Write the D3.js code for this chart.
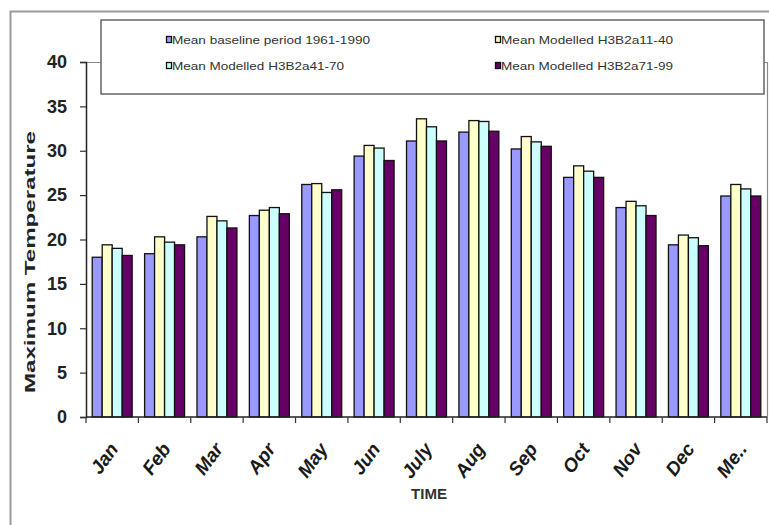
<!DOCTYPE html>
<html>
<head>
<meta charset="utf-8">
<script src="https://cdn.jsdelivr.net/npm/d3@7"></script>
<style>
  html, body { margin: 0; padding: 0; background: #fff; }
  svg { display: block; font-family: Arial, "Liberation Sans", sans-serif; }
</style>
</head>
<body>
<svg id="chart" width="769" height="525"></svg>
<script>
// Monthly mean maximum temperature: baseline vs. modelled H3B2a periods
const months = ["Jan", "Feb", "Mar", "Apr", "May", "Jun", "July", "Aug", "Sep", "Oct", "Nov", "Dec", "Me.."];
const seriesNames = [
  "Mean baseline period 1961-1990",
  "Mean Modelled H3B2a11-40",
  "Mean Modelled H3B2a41-70",
  "Mean Modelled H3B2a71-99"
];
const baseline1961_1990 = [18.0, 18.4, 20.3, 22.7, 26.2, 29.4, 31.1, 32.1, 30.2, 27.0, 23.6, 19.4, 24.9];
const modelled11_40     = [19.4, 20.3, 22.6, 23.3, 26.3, 30.6, 33.6, 33.4, 31.6, 28.3, 24.3, 20.5, 26.2];
const modelled41_70     = [19.0, 19.7, 22.1, 23.6, 25.3, 30.3, 32.7, 33.3, 31.0, 27.7, 23.8, 20.2, 25.7];
const modelled71_99     = [18.2, 19.4, 21.3, 22.9, 25.6, 28.9, 31.1, 32.2, 30.5, 27.0, 22.7, 19.3, 24.9];
const seriesValues = [baseline1961_1990, modelled11_40, modelled41_70, modelled71_99];
const seriesColors = ["#9999FF", "#FFFFCC", "#CCFFFF", "#660066"];
const yTicks = [0, 5, 10, 15, 20, 25, 30, 35, 40];

const svg = d3.select("#chart");

// Outer chart frame
svg.append("rect")
  .attr("x", 10.5).attr("y", 11.5)
  .attr("width", 820).attr("height", 600)
  .attr("fill", "none").attr("stroke", "#9a9a9a").attr("stroke-width", 2);

const plot = { left: 86, right: 767, top: 62, bottom: 417 };

const x = d3.scaleBand()
  .domain(months)
  .range([plot.left, plot.right])
  .paddingInner(0.237)
  .paddingOuter(0.1185);

const xSub = d3.scaleBand()
  .domain(d3.range(seriesNames.length))
  .range([0, x.bandwidth()]);

const y = d3.scaleLinear()
  .domain([0, 40])
  .range([plot.bottom, plot.top]);

// Plot area border (top and right)
svg.append("path")
  .attr("d", `M${plot.left},${plot.top + 0.5}H${plot.right + 0.5}V${plot.bottom}`)
  .attr("fill", "none").attr("stroke", "#8a8a8a").attr("stroke-width", 1.2);

// Bars
const rows = months.map((m, i) => ({ month: m, values: seriesValues.map(s => s[i]) }));
const groups = svg.append("g").selectAll("g")
  .data(rows)
  .join("g")
  .attr("transform", d => `translate(${x(d.month)},0)`);

groups.selectAll("rect")
  .data(d => d.values.map((v, k) => ({ k, v })))
  .join("rect")
  .attr("x", d => xSub(d.k))
  .attr("y", d => y(d.v))
  .attr("width", xSub.bandwidth())
  .attr("height", d => y(0) - y(d.v))
  .attr("fill", d => seriesColors[d.k])
  .attr("stroke", "#111")
  .attr("stroke-width", 1.3);

// Y axis
const yAxis = svg.append("g")
  .attr("transform", `translate(${plot.left},0)`)
  .call(d3.axisLeft(y).tickValues(yTicks).tickSize(6).tickPadding(13));
yAxis.select(".domain").attr("stroke", "#222").attr("stroke-width", 1.5);
yAxis.selectAll(".tick line").attr("stroke", "#333").attr("stroke-width", 1.2);
yAxis.selectAll(".tick text")
  .attr("font-size", 18).attr("font-weight", "bold").attr("fill", "#222")
  .attr("font-family", "Arial, 'Liberation Sans', sans-serif");

// X axis: ticks on category boundaries
const xAxisG = svg.append("g").attr("transform", `translate(0,${plot.bottom})`);
xAxisG.append("line")
  .attr("x1", plot.left).attr("x2", plot.right)
  .attr("stroke", "#222").attr("stroke-width", 1.5);
const boundaries = months.map(m => x(m) - x.step() * x.paddingOuter()).concat([plot.right]);
xAxisG.selectAll("line.tk")
  .data(boundaries)
  .join("line")
  .attr("class", "tk")
  .attr("x1", d => d).attr("x2", d => d)
  .attr("y1", 0).attr("y2", 6)
  .attr("stroke", "#333").attr("stroke-width", 1.2);

xAxisG.selectAll("text")
  .data(months)
  .join("text")
  .attr("transform", d => `translate(${x(d) + x.bandwidth() / 2 + 7},${32}) rotate(-54)`)
  .attr("text-anchor", "end")
  .attr("font-size", 19)
  .attr("font-weight", "bold")
  .attr("font-style", "italic")
  .attr("fill", "#1a1a1a")
  .text(d => d);

// Axis titles
svg.append("text")
  .attr("transform", "translate(35,262) rotate(-90)")
  .attr("text-anchor", "middle")
  .attr("font-size", 15)
  .attr("font-weight", "bold")
  .attr("fill", "#222")
  .attr("textLength", 262)
  .attr("lengthAdjust", "spacingAndGlyphs")
  .text("Maximum Temperature");

svg.append("text")
  .attr("x", 429).attr("y", 499)
  .attr("text-anchor", "middle")
  .attr("font-size", 14)
  .attr("font-weight", "bold")
  .attr("fill", "#333")
  .attr("textLength", 36)
  .attr("lengthAdjust", "spacingAndGlyphs")
  .text("TIME");

// Legend
const legend = svg.append("g");
legend.append("rect")
  .attr("x", 101).attr("y", 20)
  .attr("width", 663).attr("height", 74)
  .attr("fill", "#fff").attr("stroke", "#666").attr("stroke-width", 1.5);

const legendPos = [
  { x: 166, y: 44, len: 198 },
  { x: 495, y: 44, len: 172 },
  { x: 166, y: 70, len: 172 },
  { x: 495, y: 70, len: 172 }
];
const items = legend.selectAll("g.item")
  .data(seriesNames)
  .join("g")
  .attr("class", "item")
  .attr("transform", (d, i) => `translate(${legendPos[i].x},${legendPos[i].y})`);
items.append("rect")
  .attr("x", 0.5).attr("y", -7.5)
  .attr("width", 5).attr("height", 6)
  .attr("fill", (d, i) => seriesColors[i])
  .attr("stroke", "#111").attr("stroke-width", 1.3);
items.append("text")
  .attr("x", 6)
  .attr("y", 0)
  .attr("font-size", 11.5)
  .attr("fill", "#333")
  .attr("textLength", (d, i) => legendPos[i].len)
  .attr("lengthAdjust", "spacingAndGlyphs")
  .text(d => d);
</script>
</body>
</html>
